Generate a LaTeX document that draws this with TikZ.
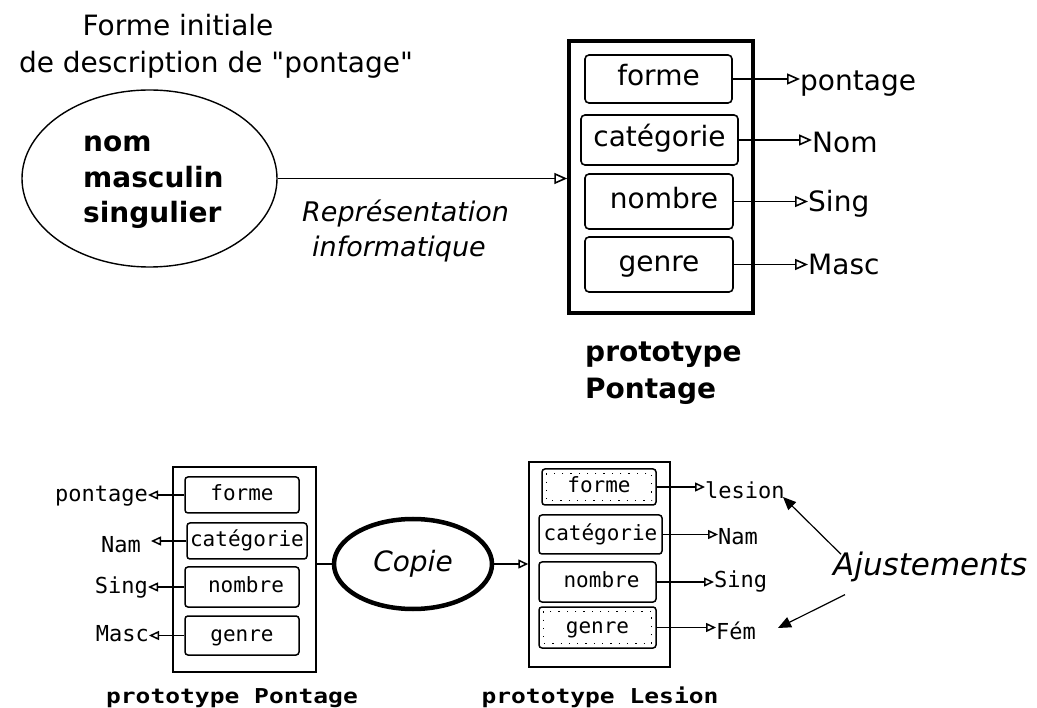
\documentclass[tikz,border=0pt]{standalone}
\usepackage{fontspec}
\setmainfont{DejaVu Sans}
\setmonofont{DejaVu Sans Mono}
\newfontfamily\titlemono[FakeStretch=1.2]{DejaVu Sans Mono Bold}
% plain font without the TeX quote mapping, for straight double quotes
\font\plainquote="DejaVu Sans" at 28pt
\newcommand{\sq}{{\plainquote\char34}}
\usetikzlibrary{arrows.meta,shapes.geometric}

\tikzset{
  lbl/.style={font=\fontsize{28}{34}\selectfont, inner sep=0pt},
  boldlbl/.style={font=\fontsize{28}{34}\selectfont\bfseries, inner sep=0pt},
  ital/.style={font=\fontsize{27}{32}\selectfont\itshape, inner sep=0pt},
  slot/.style={draw, rounded corners=4pt, line width=1.6pt, inner sep=0pt,
    font=\fontsize{28}{34}\selectfont, text height=19pt, text depth=5pt},
  frame/.style={draw, inner sep=0pt},
  conn/.style={line width=1.6pt, -{Triangle[open,length=13pt,width=11pt]}},
  sconn/.style={line width=1.5pt, -{Triangle[open,length=10pt,width=9pt]}},
  smono/.style={font=\fontsize{22}{26}\selectfont\ttfamily, inner sep=0pt},
  sslot/.style={draw, rounded corners=3pt, line width=1.5pt, inner sep=0pt,
    font=\fontsize{21}{25}\selectfont\ttfamily, text height=15pt, text depth=4pt},
  ptitle/.style={font=\fontsize{20.5}{24}\selectfont\titlemono, inner sep=0pt},
  adj/.style={line width=1.2pt, -{Triangle[length=13pt,width=11pt]}},
  dotfill/.style={line width=1.3pt, dash pattern=on 1.3pt off 7pt},
}

\begin{document}
\begin{tikzpicture}[x=1pt,y=-1pt]
\useasboundingbox (0,0) rectangle (1037,708);

% ---------- initial description ----------
\node[lbl, anchor=base] (h1) at (178,36) {Forme initiale};
\node[lbl, anchor=base] (h2) at (216,73) {de description de \sq pontage\sq};

\node[draw, ellipse, line width=1.4pt, minimum width=255pt, minimum height=177pt, inner sep=0pt] (ov) at (149.5,178.5) {};
\node[boldlbl, anchor=base west] (o1) at (83,152) {nom};
\node[boldlbl, anchor=base west] (o2) at (83,188) {masculin};
\node[boldlbl, anchor=base west] (o3) at (83,223) {singulier};

% ---------- prototype Pontage (large) ----------
\node[frame, line width=3.5pt, minimum width=184pt, minimum height=272pt] (pt) at (661,177) {};
\node[slot, minimum width=147pt, minimum height=48pt] (s1) at (658.5,79) {forme};
\node[slot, minimum width=157pt, minimum height=50pt] (s2) at (659.5,140) {catégorie};
\node[slot, minimum width=148pt, minimum height=55pt] (s3) at (659,201.5) {\hspace{10pt}nombre};
\node[slot, minimum width=148pt, minimum height=55pt] (s4) at (659,264.5) {genre};

\node[lbl, anchor=base west] (v1) at (800,91) {pontage};
\node[lbl, anchor=base west] (v2) at (812,153) {Nom};
\node[lbl, anchor=base west] (v3) at (808,212) {Sing};
\node[lbl, anchor=base west] (v4) at (808,275) {Masc};

\draw[conn] (s1.east) -- (s1.east -| v1.west);
\draw[conn] (s2.east) -- (s2.east -| v2.west);
\draw[conn] (s3.east) -- (s3.east -| v3.west);
\draw[conn] (s4.east) -- (s4.east -| v4.west);

\draw[conn] (ov.east) -- (ov.east -| pt.west);
\node[ital, anchor=base west] (r1) at (302,222) {Représentation};
\node[ital, anchor=base west] (r2) at (312,257) {informatique};

\node[boldlbl, anchor=base west] (t1) at (585,362) {prototype};
\node[boldlbl, anchor=base west] (t2) at (585,399) {Pontage};

% ---------- prototype Pontage (small) ----------
\node[frame, line width=1.5pt, minimum width=143pt, minimum height=205pt] (pb) at (244.5,569.5) {};
\node[sslot, minimum width=114pt, minimum height=36pt] (b1) at (242,495) {forme};
\node[sslot, minimum width=120pt, minimum height=36pt] (b2) at (247,541) {catégorie};
\node[sslot, minimum width=114pt, minimum height=40pt] (b3) at (242,587) {\hspace{8pt}nombre};
\node[sslot, minimum width=114pt, minimum height=39pt] (b4) at (242,635.5) {genre};

\node[smono, anchor=base east] (l1) at (148,502) {pontage};
\node[smono, anchor=base east] (l2) at (141,553) {Nam};
\node[smono, anchor=base east] (l3) at (148,593) {Sing};
\node[smono, anchor=base east] (l4) at (149,641) {Masc};

\draw[sconn] (b1.west) -- (b1.west -| l1.east);
\draw[sconn] (b2.west) -- ([xshift=10pt]b2.west -| l2.east);
\draw[sconn] (b3.west) -- (b3.west -| l3.east);
\draw[sconn] (b4.west) -- (b4.west -| l4.east);

\node[ptitle, anchor=base] (pt1) at (232,703) {prototype Pontage};

% ---------- copy ----------
\node[draw, ellipse, line width=4.5pt, minimum width=158pt, minimum height=90pt, inner sep=0pt,
      font=\fontsize{28}{32}\selectfont\itshape] (cp) at (413,564) {Copie};
\draw[line width=1.5pt] (cp.west) -- (cp.west -| pb.east);

% ---------- prototype Lesion ----------
\node[frame, line width=1.5pt, minimum width=141pt, minimum height=205pt] (lb) at (599.5,564.5) {};
\node[sslot, minimum width=114pt, minimum height=36pt] (d1) at (599,487) {forme};
\node[sslot, minimum width=123pt, minimum height=39pt] (d2) at (600.5,534.5) {catégorie};
\node[sslot, minimum width=117pt, minimum height=40pt] (d3) at (597.5,582) {\hspace{8pt}nombre};
\node[sslot, minimum width=117pt, minimum height=41pt] (d4) at (597.5,627.5) {genre};
\draw[dotfill] ([xshift=5pt,yshift=-5pt]d1.north west) rectangle ([xshift=-5pt,yshift=5pt]d1.south east);
\draw[dotfill] ([xshift=5pt,yshift=-5pt]d4.north west) rectangle ([xshift=-5pt,yshift=5pt]d4.south east);

\draw[sconn] (cp.east) -- (cp.east -| lb.west);

\node[smono, anchor=base west] (e1) at (705,499) {lesion};
\node[smono, anchor=base west] (e2) at (718,545) {Nam};
\node[smono, anchor=base west] (e3) at (714,587) {Sing};
\node[smono, anchor=base west] (e4) at (716,639) {Fém};

\draw[sconn] (d1.east) -- (d1.east -| e1.west);
\draw[sconn] (d2.east) -- (d2.east -| e2.west);
\draw[sconn] (d3.east) -- (d3.east -| e3.west);
\draw[sconn] (d4.east) -- (d4.east -| e4.west);

\node[ptitle, anchor=base] (pt2) at (600,703) {prototype Lesion};

% ---------- adjustments ----------
\node[font=\fontsize{31}{36}\selectfont\itshape, inner sep=0pt, anchor=base west] (aj) at (833,576) {Ajustements};
\coordinate (up) at (783,497);
\coordinate (dn) at (778,628);
\draw[adj] ([xshift=8pt,yshift=-2pt]aj.north west) -- (up);
\draw[adj] ([xshift=12pt,yshift=-12pt]aj.south west) -- (dn);
\end{tikzpicture}
\end{document}
